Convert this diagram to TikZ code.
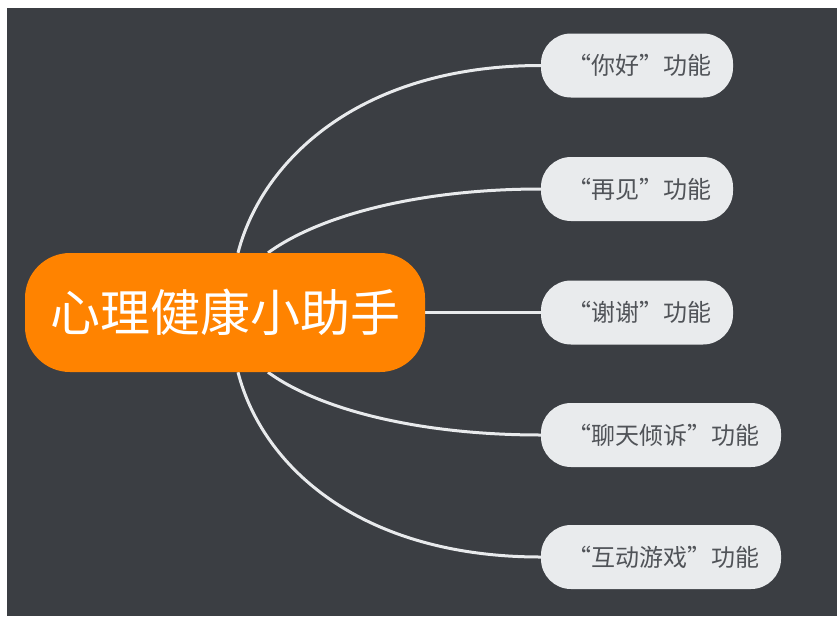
\documentclass[tikz,border=0pt]{standalone}
\usepackage{fontspec}
\newfontfamily\cjk{Noto Sans CJK SC}
\newcommand\fwq{{\addfontfeature{RawFeature=+fwid}”}}
\definecolor{bgdark}{HTML}{3B3E43}
\definecolor{rootfill}{HTML}{FF8300}
\definecolor{leaffill}{HTML}{E9EBED}
\definecolor{leaftext}{HTML}{505358}
\definecolor{linecol}{HTML}{E8EAEC}
\pgfdeclarelayer{back}
\pgfdeclarelayer{edges}
\pgfsetlayers{back,edges,main}
\tikzset{
  root/.style={fill=rootfill, rounded corners=45pt, minimum width=400pt,
    minimum height=119pt, inner sep=0pt, text=white,
    font=\cjk\fontsize{50}{50}\selectfont},
  leaf/.style={fill=leaffill, rounded corners=30pt, minimum height=64pt,
    inner sep=0pt, text=leaftext, font=\cjk\fontsize{24}{24}\selectfont,
    execute at begin node={\hspace*{5pt}}},
  edge/.style={draw=linecol, line width=3pt}
}
\begin{document}
\begin{tikzpicture}[x=1pt,y=-1pt]
\useasboundingbox (0,0) rectangle (837,616);
\begin{pgfonlayer}{back}
\fill[white] (0,0) rectangle (837,616);
\fill[bgdark] (7,8) rectangle (837,616);
\end{pgfonlayer}
\node[root] (c) at (225,312.5) {心理健康小助手};
\node[leaf, minimum width=192pt] (n1) at (637,65.5) {“你好\fwq 功能};
\node[leaf, minimum width=192pt] (n2) at (637,189) {“再见\fwq 功能};
\node[leaf, minimum width=192pt] (n3) at (637,312.5) {“谢谢\fwq 功能};
\node[leaf, minimum width=240pt] (n4) at (661,435) {“聊天倾诉\fwq 功能};
\node[leaf, minimum width=240pt] (n5) at (661,557) {“互动游戏\fwq 功能};
\begin{pgfonlayer}{edges}
\draw[edge] ([xshift=13pt]c.north) .. controls (262,160) and (360,65.5) .. (n1.west);
\draw[edge] ([xshift=43pt]c.north) .. controls (320,215) and (420,189) .. (n2.west);
\draw[edge] (c.east) -- (n3.west);
\draw[edge] ([xshift=43pt]c.south) .. controls (320,410) and (420,435) .. (n4.west);
\draw[edge] ([xshift=13pt]c.south) .. controls (262,466) and (360,557) .. (n5.west);
\end{pgfonlayer}
\end{tikzpicture}
\end{document}
